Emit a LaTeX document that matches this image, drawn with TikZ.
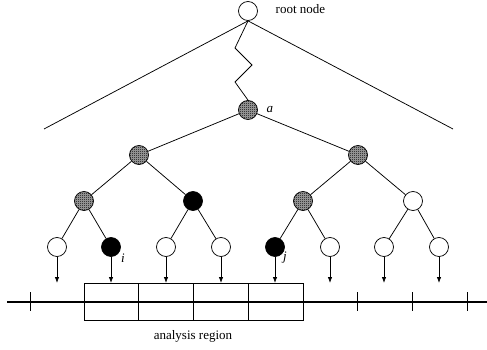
\documentclass[tikz,border=0pt]{standalone}
\usepackage{fontspec}
\setmainfont{Liberation Serif}
\usetikzlibrary{arrows.meta,patterns}
\pgfdeclarepatternformonly{finechecker}{\pgfqpoint{0pt}{0pt}}{\pgfqpoint{2pt}{2pt}}{\pgfqpoint{2pt}{2pt}}{%
  \pgfpathrectangle{\pgfqpoint{0pt}{0pt}}{\pgfqpoint{1pt}{1pt}}%
  \pgfpathrectangle{\pgfqpoint{1pt}{1pt}}{\pgfqpoint{1pt}{1pt}}%
  \pgfusepath{fill}}
\tikzset{
  nd/.style={circle,draw,minimum size=19pt,inner sep=0pt,fill=white},
  blk/.style={nd,fill=black},
  chk/.style={nd,preaction={fill=gray!70},pattern=finechecker},
  cell/.style={draw,minimum width=54.75pt,minimum height=37pt,inner sep=0pt},
}
\begin{document}
\begin{tikzpicture}[x=1pt,y=-1pt,line width=0.75pt,font=\fontsize{13}{15}\selectfont]
      \useasboundingbox (0,0) rectangle (487,350);
      \draw
        (248,11) node[nd] (r){}
        (248,110) node[chk] (a){}
        (139,155) node[chk] (b1){}
        (358,155) node[chk] (b2){}
        (84,201) node[chk] (c1){}
        (193,201) node[blk] (c2){}
        (303,201) node[chk] (c3){}
        (413,201) node[nd] (c4){}
        (57,247) node[nd] (l1){}
        (111,247) node[blk] (l2){}
        (166,247) node[nd] (l3){}
        (221,247) node[nd] (l4){}
        (275,247) node[blk] (l5){}
        (330,247) node[nd] (l6){}
        (384,247) node[nd] (l7){}
        (439,247) node[nd] (l8){};
      \node[anchor=west] (rlbl) at (272,9) {root node};
      \node[anchor=west] (albl) at (263,110) {\textit{a}};
      \node (ilbl) at (123,258) {\textit{i}};
      \node (jlbl) at (285,258) {\textit{j}};
      \node (reg) at (193,336) {analysis region};
      % boxes of the analysis region
      \foreach \k/\x in {1/111.375,2/166.125,3/220.875,4/275.625}
        \node[cell] (box\k) at (\x,301.5) {};
      \coordinate (tl) at (44,129);
      \coordinate (tr) at (453,129);
      \coordinate (z1) at (235,48);
      \coordinate (z2) at (252,65);
      \coordinate (z3) at (235,82);
      \coordinate (top) at (0,283);
      \coordinate (ax0) at (7,302);
      \coordinate (ax1) at (487,302);
      \begin{scope}[-]
        \draw (r.south) to (tl);
        \draw (r.south) to (tr);
        \draw (r.south) -- (z1) -- (z2) -- (z3) -- (a.north);
        \draw (a) to (b1);
        \draw (a) to (b2);
        \draw (b1) to (c1);
        \draw (b1) to (c2);
        \draw (b2) to (c3);
        \draw (b2) to (c4);
        \draw (c1) to (l1);
        \draw (c1) to (l2);
        \draw (c2) to (l3);
        \draw (c2) to (l4);
        \draw (c3) to (l5);
        \draw (c3) to (l6);
        \draw (c4) to (l7);
        \draw (c4) to (l8);
      \end{scope}
      \foreach \n in {1,...,8}
        \draw[-{Latex[length=6pt,width=4.5pt]}] (l\n) -- (l\n |- top);
      \draw[line width=1.6pt] (ax0) -- (ax1);
      \foreach \x in {30,357,412,467}
        \draw (\x,292) -- (\x,311);
    \end{tikzpicture}
\end{document}
